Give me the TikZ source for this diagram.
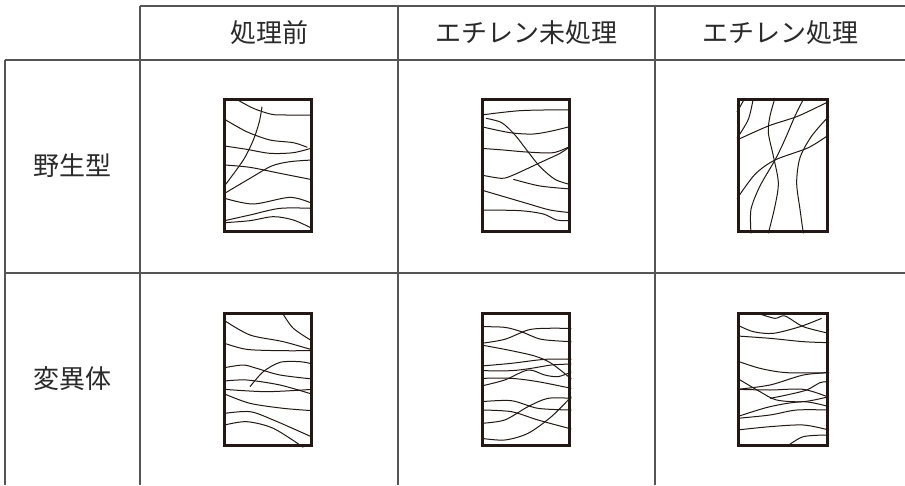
\documentclass[tikz,border=0pt]{standalone}
\usepackage{fontspec}
\newfontfamily\jpfont{Noto Sans CJK JP}
\definecolor{framecol}{HTML}{231815}
\definecolor{tablecol}{HTML}{555555}
\definecolor{textcol}{HTML}{2A2A2A}
\begin{document}
\begin{tikzpicture}[x=1pt,y=-1pt,
  tline/.style={draw=tablecol,line width=1.1pt},
  fib/.style={draw=framecol,line width=1pt},
  cellframe/.style={draw=framecol,line width=3.4pt},
  label/.style={text=textcol,font=\jpfont\fontsize{26}{30}\selectfont,inner sep=0pt}]
\useasboundingbox (0,0) rectangle (905,485);
\fill[white] (0,0) rectangle (905,485);
% table lines
\draw[tline] (140,6) -- (905,6);
\draw[tline] (5,60) -- (905,60);
\draw[tline] (5,273) -- (905,273);
\draw[tline] (5,60) -- (5,485);
\draw[tline] (140,6) -- (140,485);
\draw[tline] (398,6) -- (398,485);
\draw[tline] (655,6) -- (655,485);
% labels
\node[label] (h1) at (269,33) {処理前};
\node[label] (h2) at (526.5,33) {エチレン未処理};
\node[label] (h3) at (780,33) {エチレン処理};
\node[label] (r1) at (72,166) {野生型};
\node[label] (r2) at (72,379) {変異体};
% Panel A
\begin{scope}[shift={(200,90)},x=1pt/3,y=-1pt/3]
\draw[fib] plot[smooth] coordinates {(110,28) (160,55) (215,73) (260,75) (336,75)};
\draw[fib] plot[smooth] coordinates {(186,50) (178,95) (160,150) (130,210) (74,287)};
\draw[fib] plot[smooth] coordinates {(74,88) (140,125) (210,150) (280,158) (322,172)};
\draw[fib] plot[smooth] coordinates {(74,168) (140,178) (210,190) (280,188) (336,174)};
\draw[fib] plot[smooth] coordinates {(74,225) (150,232) (240,250) (336,269)};
\draw[fib] plot[smooth] coordinates {(74,310) (150,265) (215,228) (270,215) (336,210)};
\draw[fib] plot[smooth] coordinates {(74,325) (160,342) (270,322) (336,340)};
\draw[fib] plot[smooth] coordinates {(74,392) (150,375) (240,355) (336,355)};
\draw[fib] plot[smooth] coordinates {(74,398) (150,392) (220,380) (280,390) (336,415)};
\end{scope}
% Panel B
\begin{scope}[shift={(460,90)},x=1pt/3,y=-1pt/3]
\draw[fib] plot[smooth] coordinates {(64,75) (120,68) (180,62) (250,60) (332,60)};
\draw[fib] plot[smooth] coordinates {(78,85) (125,98) (165,135) (200,180) (240,230) (285,268) (332,284)};
\draw[fib] plot[smooth] coordinates {(64,110) (150,128) (220,132) (280,122) (332,109)};
\draw[fib] plot[smooth] coordinates {(64,175) (130,180) (200,186) (280,188) (332,168)};
\draw[fib] plot[smooth] coordinates {(64,255) (125,265) (160,255) (240,218) (300,190) (332,168)};
\draw[fib] plot[smooth] coordinates {(160,268) (240,288) (332,297)};
\draw[fib] plot[smooth] coordinates {(64,300) (200,340) (270,360) (332,368)};
\draw[fib] plot[smooth] coordinates {(64,360) (180,362) (250,372) (290,390) (332,392)};
\end{scope}
% Panel C
\begin{scope}[shift={(735,96)},x=1pt/3,y=-1pt/3]
\draw[fib] plot[smooth] coordinates {(120,6) (105,60) (100,110) (115,180) (130,260) (120,330) (100,412)};
\draw[fib] plot[smooth] coordinates {(207,6) (180,60) (150,130) (120,192) (75,270) (48,340) (48,412)};
\draw[fib] plot[smooth] coordinates {(282,116) (220,155) (120,192) (60,235) (6,308)};
\draw[fib] plot[smooth] coordinates {(282,60) (230,120) (195,185) (185,260) (195,340) (205,412)};
\draw[fib] plot[smooth] coordinates {(6,132) (100,90) (190,60) (282,16)};
\draw[fib] plot[smooth] coordinates {(55,6) (40,70) (6,127)};
\draw[fib] (30,6) -- (6,48);
\end{scope}
% Panel D
\begin{scope}[shift={(200,300)},x=1pt/3,y=-1pt/3]
\draw[fib] plot[smooth] coordinates {(248,40) (280,85) (338,124)};
\draw[fib] plot[smooth] coordinates {(74,62) (150,105) (250,125) (338,150)};
\draw[fib] plot[smooth] coordinates {(74,130) (140,148) (240,152) (338,152)};
\draw[fib] plot[smooth] coordinates {(74,203) (130,195) (170,205) (240,225) (338,237)};
\draw[fib] plot[smooth] coordinates {(150,260) (190,215) (240,187) (300,185) (338,192)};
\draw[fib] plot[smooth] coordinates {(74,243) (140,240) (240,255) (338,283)};
\draw[fib] plot[smooth] coordinates {(74,268) (200,275) (338,268)};
\draw[fib] plot[smooth] coordinates {(74,282) (150,310) (250,325) (338,332)};
\draw[fib] plot[smooth] coordinates {(74,340) (150,335) (220,360) (338,412)};
\draw[fib] plot[smooth] coordinates {(74,375) (140,365) (220,385) (310,442)};
\end{scope}
% Panel E
\begin{scope}[shift={(478,310)},x=1pt/3,y=-1pt/3]
\draw[fib] plot[smooth] coordinates {(10,50) (80,52) (130,65) (190,88) (280,95)};
\draw[fib] plot[smooth] coordinates {(10,100) (80,88) (150,60) (200,55) (280,55)};
\draw[fib] plot[smooth] coordinates {(10,105) (90,120) (170,138) (220,160) (280,207)};
\draw[fib] plot[smooth] coordinates {(10,168) (100,160) (200,148) (280,148)};
\draw[fib] plot[smooth] coordinates {(10,182) (100,182) (160,175) (220,165) (280,162)};
\draw[fib] plot[smooth] coordinates {(10,205) (100,205) (180,215) (280,235)};
\draw[fib] plot[smooth] coordinates {(10,228) (80,210) (150,180) (200,195) (240,200) (280,186)};
\draw[fib] plot[smooth] coordinates {(10,275) (100,272) (180,295) (280,300)};
\draw[fib] plot[smooth] coordinates {(10,300) (100,305) (180,330) (280,357)};
\draw[fib] plot[smooth] coordinates {(10,340) (80,330) (150,290) (210,265) (280,265)};
\draw[fib] plot[smooth] coordinates {(10,385) (80,390) (150,370) (220,320) (280,260)};
\end{scope}
% Panel F
\begin{scope}[shift={(720,300)},x=1pt/3,y=-1pt/3]
\draw[fib] plot[smooth] coordinates {(120,42) (165,55) (195,48) (250,80) (327,100)};
\draw[fib] plot[smooth] coordinates {(52,75) (100,95) (160,100) (240,80) (305,55)};
\draw[fib] plot[smooth] coordinates {(52,108) (150,115) (250,125) (327,128)};
\draw[fib] plot[smooth] coordinates {(52,183) (120,205) (200,218) (327,218)};
\draw[fib] plot[smooth] coordinates {(52,235) (120,275) (170,300) (250,305) (327,290)};
\draw[fib] plot[smooth] coordinates {(52,268) (150,255) (250,225) (327,218)};
\draw[fib] plot[smooth] coordinates {(52,268) (150,270) (250,268) (327,292)};
\draw[fib] plot[smooth] coordinates {(150,295) (200,285) (260,270) (300,248) (327,245)};
\draw[fib] plot[smooth] coordinates {(52,350) (150,320) (250,305) (327,320)};
\draw[fib] plot[smooth] coordinates {(52,355) (150,345) (230,330) (327,330)};
\draw[fib] plot[smooth] coordinates {(52,390) (150,380) (250,375) (327,390)};
\draw[fib] plot[smooth] coordinates {(200,440) (250,410) (327,405)};
\end{scope}
% frames
\draw[cellframe] (224.7,99.7) rectangle (311.3,231.3);
\draw[cellframe] (482.7,99.7) rectangle (569.3,231.3);
\draw[cellframe] (738.7,99.7) rectangle (827.3,231.3);
\draw[cellframe] (224.7,313.7) rectangle (311.3,445.3);
\draw[cellframe] (482.7,313.7) rectangle (569.3,445.3);
\draw[cellframe] (738.7,313.7) rectangle (827.3,445.3);
\end{tikzpicture}
\end{document}
